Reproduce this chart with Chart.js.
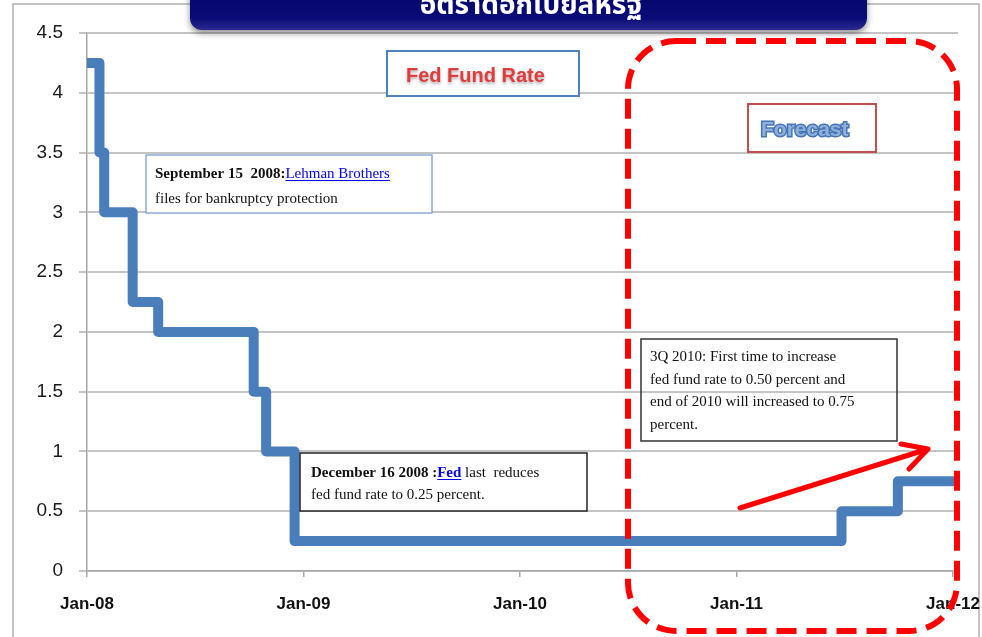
<!DOCTYPE html>
<html>
<head>
<meta charset="utf-8">
<title>Fed Fund Rate</title>
<script src="https://cdn.jsdelivr.net/npm/chart.js@4"></script>
<style>
  html, body { margin: 0; padding: 0; background: #fff; }
  canvas { display: block; }
</style>
</head>
<body>
<canvas id="rateChart" width="982" height="637"></canvas>
<script>
// dates where the fed fund rate changed, and the rate from that date
const changeDates = ['2008-01-01', '2008-01-22', '2008-01-30', '2008-03-18', '2008-04-30',
    '2008-10-08', '2008-10-29', '2008-12-16', '2011-06-27', '2011-09-30', '2012-01-08'];
const fedRate = [4.25, 3.5, 3.0, 2.25, 2.0, 1.5, 1.0, 0.25, 0.5, 0.75, 0.75];

const yearTicks = [2008, 2009, 2010, 2011, 2012];
const yearLabels = ['Jan-08', 'Jan-09', 'Jan-10', 'Jan-11', 'Jan-12'];

const titleText = 'อัตราดอกเบี้ยสหรัฐ';

function toYear(str) {
    const d = new Date(str + 'T00:00:00Z');
    const start = Date.UTC(d.getUTCFullYear(), 0, 1);
    return d.getUTCFullYear() + (d - start) / (365 * 86400000);
}

const points = changeDates.map((d, i) => ({ x: toYear(d), y: fedRate[i] }));

function roundRect(ctx, x, y, w, h, r) {
    ctx.beginPath();
    ctx.moveTo(x + r, y);
    ctx.lineTo(x + w - r, y);
    ctx.arcTo(x + w, y, x + w, y + r, r);
    ctx.lineTo(x + w, y + h - r);
    ctx.arcTo(x + w, y + h, x + w - r, y + h, r);
    ctx.lineTo(x + r, y + h);
    ctx.arcTo(x, y + h, x, y + h - r, r);
    ctx.lineTo(x, y + r);
    ctx.arcTo(x, y, x + r, y, r);
    ctx.closePath();
}

// draws a line of text pieces: [text, bold, link]
function richLine(ctx, x, y, parts, size) {
    let cx = x;
    parts.forEach(p => {
        ctx.font = (p[1] ? 'bold ' : '') + size + 'px "Liberation Serif", serif';
        ctx.fillStyle = p[2] ? '#0000ee' : '#111';
        ctx.fillText(p[0], cx, y);
        const w = ctx.measureText(p[0]).width;
        if (p[2]) {
            ctx.fillRect(cx, y + 2, w, 1);
        }
        cx += w;
    });
}

const background = {
    id: 'background',
    beforeDraw(chart) {
        const ctx = chart.ctx;
        ctx.save();
        ctx.fillStyle = '#fff';
        ctx.fillRect(0, 0, chart.width, chart.height);
        // outer frame of the slide chart
        ctx.strokeStyle = '#b0b0b0';
        ctx.lineWidth = 1.5;
        ctx.strokeRect(13, 4, 966, 700);
        ctx.restore();
    }
};

const overlays = {
    id: 'overlays',
    afterDraw(chart) {
        const ctx = chart.ctx;
        ctx.save();
        ctx.textBaseline = 'alphabetic';
        ctx.textAlign = 'left';

        // Fed Fund Rate label
        ctx.fillStyle = '#fff';
        ctx.fillRect(387, 51, 192, 45);
        ctx.strokeStyle = '#4f81bd';
        ctx.lineWidth = 2;
        ctx.strokeRect(387, 51, 192, 45);
        ctx.font = 'bold 20px "Liberation Sans", sans-serif';
        ctx.shadowColor = 'rgba(0,0,0,0.35)';
        ctx.shadowBlur = 3;
        ctx.shadowOffsetY = 2;
        ctx.fillStyle = '#e23b3b';
        ctx.fillText('Fed Fund Rate', 406, 82);
        ctx.shadowColor = 'transparent';

        // Forecast label
        ctx.fillStyle = '#fff';
        ctx.fillRect(748, 104, 128, 48);
        ctx.strokeStyle = '#c0504d';
        ctx.lineWidth = 2;
        ctx.strokeRect(748, 104, 128, 48);
        ctx.font = 'bold 21px "Liberation Sans", sans-serif';
        ctx.lineWidth = 3;
        ctx.strokeStyle = '#4675b4';
        ctx.strokeText('Forecast', 761, 136);
        ctx.fillStyle = '#8db0de';
        ctx.fillText('Forecast', 761, 136);

        // Lehman box
        ctx.fillStyle = '#fff';
        ctx.fillRect(146, 155, 286, 58);
        ctx.strokeStyle = '#6f95c8';
        ctx.lineWidth = 1.2;
        ctx.strokeRect(146, 155, 286, 58);
        richLine(ctx, 155, 178, [['September 15  2008:', true, false], ['Lehman Brothers', false, true]], 15);
        richLine(ctx, 155, 203, [['files for bankruptcy protection', false, false]], 15);

        // December box
        ctx.fillStyle = '#fff';
        ctx.fillRect(300, 453, 287, 58);
        ctx.strokeStyle = '#222';
        ctx.lineWidth = 1.5;
        ctx.strokeRect(300, 453, 287, 58);
        richLine(ctx, 311, 477, [['December 16 2008 :', true, false], ['Fed', true, true], [' last  reduces', false, false]], 15);
        richLine(ctx, 311, 499, [['fed fund rate to 0.25 percent.', false, false]], 15);

        // 3Q 2010 box (no fill)
        ctx.strokeStyle = '#333';
        ctx.lineWidth = 1.5;
        ctx.strokeRect(641, 339, 256, 102);
        richLine(ctx, 650, 361, [['3Q 2010: First time to increase', false, false]], 15);
        richLine(ctx, 650, 384, [['fed fund rate to 0.50 percent and', false, false]], 15);
        richLine(ctx, 650, 406, [['end of 2010 will increased to 0.75', false, false]], 15);
        richLine(ctx, 650, 429, [['percent.', false, false]], 15);

        // red arrow
        ctx.strokeStyle = '#ff0000';
        ctx.lineWidth = 5;
        ctx.lineCap = 'round';
        ctx.lineJoin = 'round';
        ctx.beginPath();
        ctx.moveTo(740, 508);
        ctx.lineTo(928, 449);
        ctx.moveTo(901, 444);
        ctx.lineTo(928, 449);
        ctx.lineTo(909, 469);
        ctx.stroke();

        // forecast dashed region
        ctx.lineCap = 'butt';
        ctx.lineWidth = 6;
        ctx.setLineDash([20, 10]);
        roundRect(ctx, 628, 41, 329, 590, 48);
        ctx.stroke();
        ctx.setLineDash([]);

        // title banner
        ctx.shadowColor = 'rgba(0,0,0,0.45)';
        ctx.shadowBlur = 6;
        ctx.shadowOffsetY = 3;
        const g = ctx.createLinearGradient(0, -10, 0, 30);
        g.addColorStop(0, '#05056a');
        g.addColorStop(0.7, '#0b0b78');
        g.addColorStop(1, '#2a2a8e');
        ctx.fillStyle = g;
        roundRect(ctx, 190, -20, 677, 50, 12);
        ctx.fill();
        ctx.shadowColor = 'transparent';
        ctx.font = 'bold 28px "Noto Sans Thai", "Noto Sans", "DejaVu Sans", sans-serif';
        ctx.fillStyle = '#fff';
        ctx.textAlign = 'center';
        ctx.fillText(titleText, 531, 14);
        ctx.restore();
    }
};

new Chart(document.getElementById('rateChart'), {
    type: 'line',
    data: {
        datasets: [{
            label: 'Fed Fund Rate',
            data: points,
            borderColor: '#4a7ebb',
            borderWidth: 10,
            borderJoinStyle: 'round',
            stepped: true,
            pointRadius: 0,
            fill: false
        }]
    },
    options: {
        responsive: false,
        animation: false,
        devicePixelRatio: 1,
        layout: { padding: { top: 33, right: 24, left: 0, bottom: 0 } },
        plugins: {
            legend: { display: false },
            tooltip: { enabled: false }
        },
        scales: {
            x: {
                type: 'linear',
                min: 2008,
                max: 2012.023,
                afterBuildTicks: scale => {
                    scale.ticks = yearTicks.map(v => ({ value: v }));
                },
                afterFit: scale => {
                    scale.height = 66;
                    scale.paddingLeft = 0;
                    scale.paddingRight = 0;
                },
                ticks: {
                    callback: v => yearLabels[yearTicks.indexOf(v)],
                    font: { family: '"Liberation Sans", sans-serif', size: 17, weight: 'bold' },
                    color: '#111',
                    padding: 17,
                    maxRotation: 0,
                    autoSkip: false
                },
                grid: {
                    drawOnChartArea: false,
                    drawTicks: true,
                    tickLength: 6,
                    color: '#a6a6a6',
                    lineWidth: 1.5
                },
                border: { color: '#a6a6a6', width: 1.5 }
            },
            y: {
                min: 0,
                max: 4.5,
                afterFit: scale => {
                    scale.width = 87;
                    scale.paddingTop = 0;
                    scale.paddingBottom = 0;
                },
                ticks: {
                    stepSize: 0.5,
                    callback: v => String(v),
                    font: { family: '"Liberation Sans", sans-serif', size: 19 },
                    color: '#1a1a1a',
                    padding: 16
                },
                grid: {
                    color: '#c4c4c4',
                    lineWidth: 2,
                    tickLength: 8
                },
                border: { color: '#a6a6a6', width: 1.5 }
            }
        }
    },
    plugins: [background, overlays]
});
</script>
</body>
</html>
